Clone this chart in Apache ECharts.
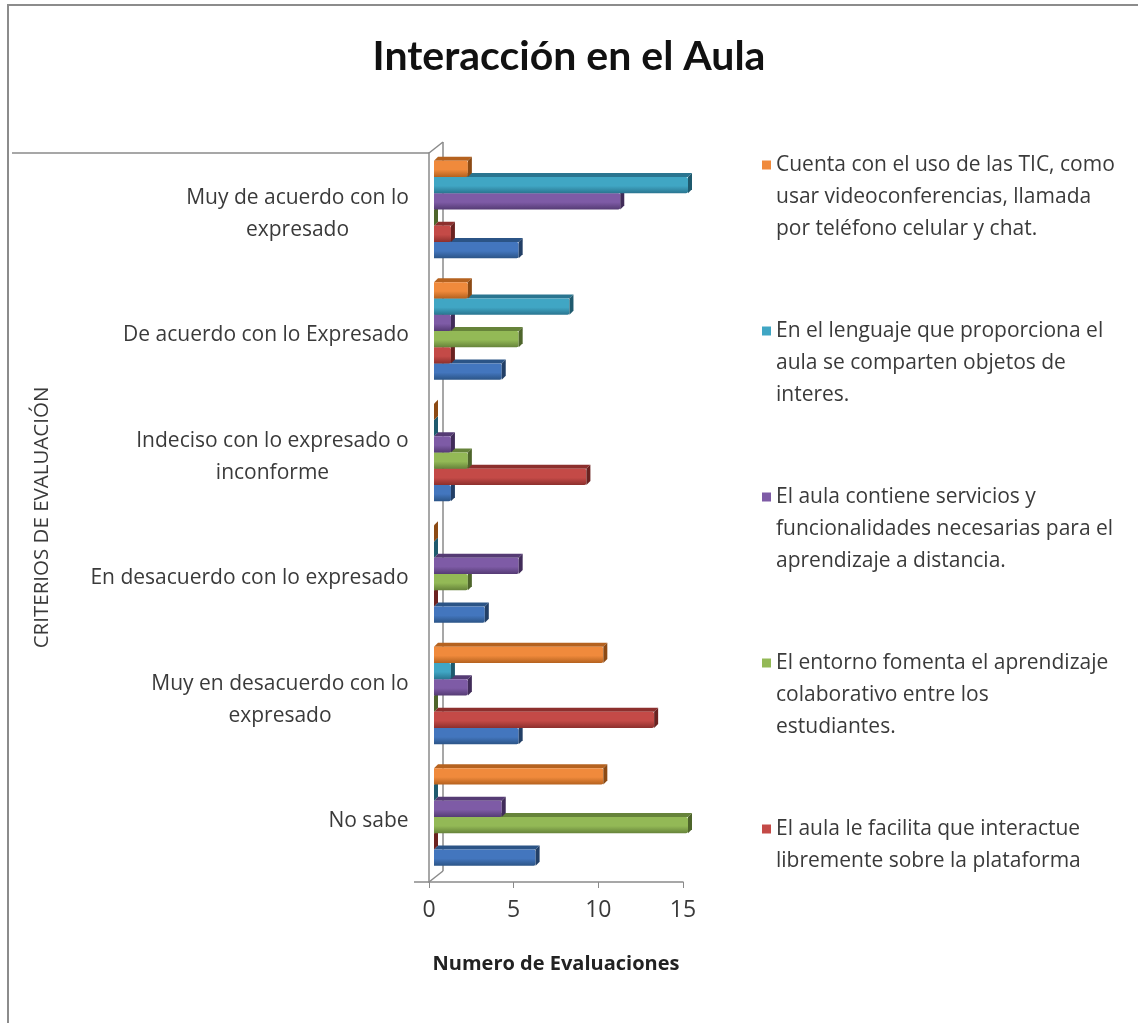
<!DOCTYPE html>
<html>
<head>
<meta charset="utf-8">
<title>Interacción en el Aula</title>
<script src="https://cdn.jsdelivr.net/npm/echarts@6/dist/echarts.min.js"></script>
<style>
  html, body { margin: 0; padding: 0; background: #ffffff; }
  #chart { width: 1138px; height: 1023px; }
</style>
</head>
<body>
<div id="chart"></div>
<script>
// Categorías de evaluación (de arriba hacia abajo)
const categorias = [
  'Muy de acuerdo con lo\nexpresado',
  'De acuerdo con lo Expresado',
  'Indeciso con lo expresado o\ninconforme',
  'En desacuerdo con lo expresado',
  'Muy en desacuerdo con lo\nexpresado',
  'No sabe'
];

// Número de evaluaciones por criterio, una lista por serie
const serieAzul    = [5, 4, 1, 3, 5, 6];
const serieRoja    = [1, 1, 9, 0, 13, 0];
const serieVerde   = [0, 5, 2, 2, 0, 15];
const serieMorada  = [11, 1, 1, 5, 2, 4];
const serieTurquesa = [15, 8, 0, 0, 1, 0];
const serieNaranja = [2, 2, 0, 0, 10, 10];

// Textos de la leyenda
const nombreAzul = 'Serie 1';
const nombreRoja = 'El aula le facilita que interactue\nlibremente sobre la plataforma';
const nombreVerde = 'El entorno fomenta el aprendizaje\ncolaborativo entre los\nestudiantes.';
const nombreMorada = 'El aula contiene servicios y\nfuncionalidades necesarias para el\naprendizaje a distancia.';
const nombreTurquesa = 'En el lenguaje que proporciona el\naula se comparten objetos de\ninteres.';
const nombreNaranja = 'Cuenta con el uso de las TIC, como\nusar videoconferencias, llamada\npor teléfono celular y chat.';

// Marcas del eje de valores
const ejeMin = 0, ejeMax = 15, ejePaso = 5;

// Geometría del área de trazado
const GRID = { left: 429, top: 153, right: 1138 - 683, bottom: 1023 - 882 };
const FONT = '"Open Sans", "Noto Sans", sans-serif';
const TAM = 21;

// Paleta: frente, cara superior, cara lateral
const paleta = {
  azul:     { front: '#4376BE', top: '#2B5486', side: '#223F66' },
  roja:     { front: '#C44A47', top: '#8C2F2D', side: '#6A2220' },
  verde:    { front: '#93B956', top: '#66833A', side: '#4E652B' },
  morada:   { front: '#7E5BA6', top: '#553B74', side: '#412C59' },
  turquesa: { front: '#40A6C4', top: '#2A7590', side: '#1F5A6E' },
  naranja:  { front: '#F08A3C', top: '#B5621F', side: '#8C4A14' }
};

const series = [
  { name: nombreAzul, data: serieAzul, c: paleta.azul },
  { name: nombreRoja, data: serieRoja, c: paleta.roja },
  { name: nombreVerde, data: serieVerde, c: paleta.verde },
  { name: nombreMorada, data: serieMorada, c: paleta.morada },
  { name: nombreTurquesa, data: serieTurquesa, c: paleta.turquesa },
  { name: nombreNaranja, data: serieNaranja, c: paleta.naranja }
];

const N = series.length;

// Barra con efecto 3D: frente, cara superior y cara lateral
function dibujarBarra(params, api) {
  const v = api.value(0);
  const ci = api.value(1);
  const base = api.coord([0, ci]);
  const fin = api.coord([v, ci]);
  const band = api.size([0, 1])[1];
  const t = band * 0.134;
  const slot = N - 1 - params.seriesIndex;
  const groupTop = base[1] - (N / 2) * t - band * 0.035;
  const yTop = groupTop + slot * t;
  const yBot = yTop + t;
  const shift = 5, d = 4;
  const x0 = base[0] + shift, x1 = fin[0] + shift;
  const c = series[params.seriesIndex].c;
  const frontFill = new echarts.graphic.LinearGradient(0, 0, 0, 1, [
    { offset: 0, color: c.front },
    { offset: 0.55, color: c.front },
    { offset: 1, color: c.top }
  ]);
  return {
    type: 'group',
    children: [
      {
        type: 'polygon',
        shape: { points: [[x0, yTop], [x0 + d, yTop - d], [x1 + d, yTop - d], [x1, yTop]] },
        style: { fill: c.top }
      },
      {
        type: 'rect',
        shape: { x: x0, y: yTop, width: Math.max(0, x1 - x0), height: t, r: [0, 2, 2, 0] },
        style: { fill: frontFill }
      },
      {
        type: 'polygon',
        shape: { points: [[x1, yTop], [x1 + d, yTop - d], [x1 + d, yBot - d], [x1, yBot]] },
        style: { fill: c.side }
      }
    ]
  };
}

// Etiquetas de categoría: líneas centradas entre sí, bloque alineado a la derecha
const medidor = document.createElement('canvas').getContext('2d');
medidor.font = TAM + 'px ' + FONT;
const richCat = {};
categorias.forEach((txt, i) => {
  const w = Math.max(...txt.split('\n').map(l => medidor.measureText(l).width));
  richCat['l' + i] = {
    width: Math.ceil(w) + 2,
    align: 'center',
    fontSize: TAM,
    fontFamily: FONT,
    color: '#3a3a3a',
    lineHeight: 32
  };
});

// Leyenda: el cuadro queda a la altura de la primera línea de cada texto
function textoLeyenda(name) {
  const lines = name.split('\n');
  const pre = ['', ''];
  const post = [];
  while (lines.length + post.length < 3) post.push('');
  return pre.concat(lines, post).join('\n');
}

const chart = echarts.init(document.getElementById('chart'), null, { renderer: 'canvas' });

const gx = GRID.left, gy0 = GRID.top, gy1 = 1023 - GRID.bottom;
const wallDx = 14, wallDy = 11;
const lineaGris = { stroke: '#8a8a8a', lineWidth: 1.5 };

chart.setOption({
  backgroundColor: '#ffffff',
  animation: false,
  title: {
    text: 'Interacción en el Aula',
    left: 'center',
    top: 31,
    textStyle: { fontFamily: 'Lato, ' + FONT, fontWeight: 'bold', fontSize: 41, color: '#111111' }
  },
  legend: {
    orient: 'vertical',
    left: 757,
    top: 80,
    itemGap: 6,
    itemWidth: 9,
    itemHeight: 9,
    icon: 'rect',
    data: [nombreNaranja, nombreTurquesa, nombreMorada, nombreVerde, nombreRoja],
    formatter: textoLeyenda,
    textStyle: { fontFamily: FONT, fontSize: TAM, color: '#3a3a3a', lineHeight: 32 }
  },
  grid: { left: GRID.left, top: GRID.top, right: GRID.right, bottom: GRID.bottom, containLabel: false },
  xAxis: {
    type: 'value',
    min: ejeMin,
    max: ejeMax,
    interval: ejePaso,
    name: 'Numero de Evaluaciones',
    nameLocation: 'middle',
    nameGap: 72,
    nameTextStyle: { fontFamily: FONT, fontWeight: 'bold', fontSize: 20, color: '#222222' },
    axisLine: { show: true, lineStyle: { color: '#8a8a8a', width: 1.5 } },
    axisTick: { show: true, length: 6, lineStyle: { color: '#8a8a8a' } },
    axisLabel: { fontFamily: FONT, fontSize: 23, color: '#3a3a3a', margin: 17 },
    splitLine: { show: false }
  },
  yAxis: {
    type: 'category',
    inverse: true,
    data: categorias,
    name: 'CRITERIOS DE EVALUACIÓN',
    nameLocation: 'middle',
    nameRotate: 90,
    nameGap: 376,
    nameTextStyle: { fontFamily: FONT, fontSize: 20.5, color: '#3a3a3a' },
    axisLine: { show: true, lineStyle: { color: '#8a8a8a', width: 1.5 } },
    axisTick: { show: false },
    axisLabel: {
      margin: 19,
      formatter: (value, index) => value.split('\n').map(l => '{l' + index + '|' + l + '}').join('\n'),
      rich: richCat
    },
    splitLine: { show: false }
  },
  graphic: [
    // Marco exterior
    { type: 'rect', shape: { x: 8, y: 5, width: 1200, height: 1100 }, style: { fill: null, stroke: '#8c8c8c', lineWidth: 2 }, silent: true, z: -10 },
    // Paredes en perspectiva
    { type: 'line', shape: { x1: 12, y1: gy0, x2: gx, y2: gy0 }, style: lineaGris, silent: true, z: -5 },
    { type: 'line', shape: { x1: gx, y1: gy0, x2: gx + wallDx, y2: gy0 - wallDy }, style: lineaGris, silent: true, z: -5 },
    { type: 'line', shape: { x1: gx + wallDx, y1: gy0 - wallDy, x2: gx + wallDx, y2: gy1 - wallDy }, style: lineaGris, silent: true, z: -5 },
    { type: 'line', shape: { x1: gx, y1: gy1, x2: gx + wallDx, y2: gy1 - wallDy }, style: lineaGris, silent: true, z: -5 },
    { type: 'line', shape: { x1: gx - 15, y1: gy1, x2: gx, y2: gy1 }, style: lineaGris, silent: true, z: -5 }
  ],
  series: series.map(s => ({
    type: 'custom',
    name: s.name,
    coordinateSystem: 'cartesian2d',
    encode: { x: 0, y: 1 },
    itemStyle: { color: s.c.front },
    renderItem: dibujarBarra,
    data: s.data.map((v, i) => [v, i]),
    z: 2
  }))
});
</script>
</body>
</html>
